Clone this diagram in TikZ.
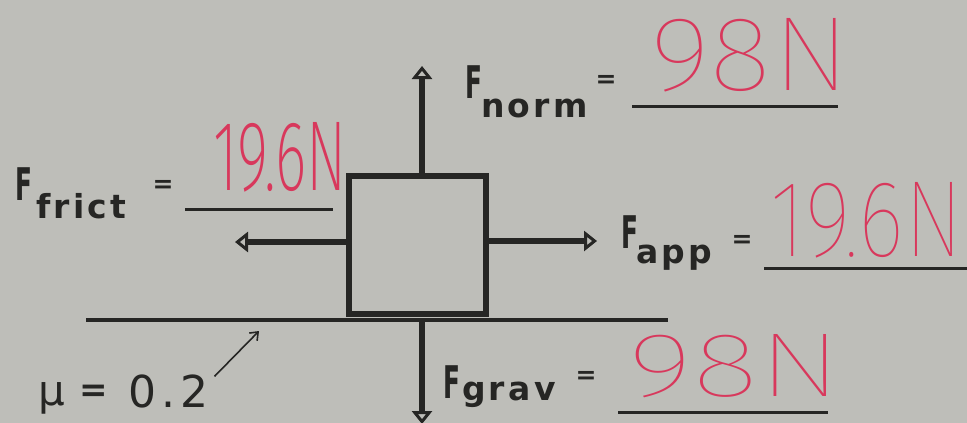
\documentclass[tikz,border=0pt]{standalone}
\usepackage{fontspec}
\usepackage{graphicx}
\usetikzlibrary{arrows.meta}
\newfontfamily\prt{DejaVu Sans}
\newfontfamily\subf{DejaVu Sans}[LetterSpace=10]
\newfontfamily\numf{DejaVu Sans}[LetterSpace=12]
\newfontfamily\hand{Fira Sans Thin}
\newfontfamily\handx{Fira Sans ExtraLight}
\definecolor{paper}{RGB}{190,190,185}
\definecolor{ink}{RGB}{38,38,36}
\definecolor{pen}{RGB}{216,56,92}
\newcommand{\capF}{\scalebox{0.55}[1]{\bfseries F}}
\newcommand{\hw}[3]{\resizebox{#1pt}{#2pt}{\hand #3}}
\newcommand{\hwx}[3]{\resizebox{#1pt}{#2pt}{\handx #3}}
\tikzset{
  txt/.style={inner sep=0pt, outer sep=0pt, text=ink},
  bigF/.style={txt, anchor=base west, font=\prt\fontsize{45}{45}\selectfont},
  subs/.style={txt, anchor=base west, font=\subf\bfseries\fontsize{33}{33}\selectfont},
  eqs/.style={txt, font=\prt\bfseries\fontsize{25}{25}\selectfont},
  handw/.style={inner sep=0pt, outer sep=0pt, text=pen, anchor=south west},
  blank/.style={draw=ink, line width=3pt},
  force/.style={draw=ink, line width=5.5pt, -{Triangle[open, length=13pt, width=20pt, line width=3pt]}},
  blockbox/.style={draw=ink, line width=6.5pt, minimum width=137pt, minimum height=138pt, inner sep=0pt},
}
\begin{document}
\begin{tikzpicture}[x=1pt,y=-1pt]
\fill[paper] (0,0) rectangle (967,423);
\useasboundingbox (0,0) rectangle (967,423);

% ground line
\coordinate (gl) at (86,320);
\coordinate (gr) at (668,320);
\draw[ink, line width=4pt] (gl) -- (gr);

% block
\node[blockbox] (blk) at (417.5,245) {};

% force arrows
\coordinate (upend) at (422,66);
\coordinate (downend) at (422,424);
\coordinate (leftend) at (235,242);
\coordinate (rightend) at (597,241);
\coordinate (upstart) at (422,176);
\coordinate (downstart) at (422,320);
\draw[force] (upstart) -- (upend);
\draw[force] (downstart) -- (downend);
\draw[force] (blk.west |- leftend) -- (leftend);
\draw[force] (blk.east |- rightend) -- (rightend);

% F_frict
\node[bigF] (ffF) at (16,200) {\capF};
\node[subs] (ffs) at (36,218) {frict};
\node[eqs] (ffe) at (163,186) {=};
\coordinate (ffl) at (185,209);
\coordinate (ffr) at (333,209);
\draw[blank] (ffl) -- (ffr);
\node[handw] (ffv) at (213,192) {\hwx{134}{68}{19.6N}};

% F_norm
\node[bigF] (fnF) at (465,98) {\capF};
\node[subs] (fns) at (481,117) {norm};
\node[eqs] (fne) at (606,81) {=};
\coordinate (fnl) at (632,106);
\coordinate (fnr) at (838,106);
\draw[blank] (fnl) -- (fnr);
\node[handw] (fnv) at (650,92) {\hw{200}{72}{98N}};

% F_app
\node[bigF] (faF) at (621,248) {\capF};
\node[subs] (fas) at (636,263) {app};
\node[eqs] (fae) at (742,241) {=};
\coordinate (fal) at (764,268);
\coordinate (far) at (967,268);
\draw[blank] (fal) -- (far);
\node[handw] (fav) at (770,258) {\hw{193}{74}{19.6N}};

% F_grav
\node[bigF] (fgF) at (443,398) {\capF};
\node[subs] (fgs) at (462,400) {grav};
\node[eqs] (fge) at (586,377) {=};
\coordinate (fgl) at (618,412);
\coordinate (fgr) at (828,412);
\draw[blank] (fgl) -- (fgr);
\node[handw] (fgv) at (628,398) {\hw{214}{62}{98N}};

% mu
\node[txt, anchor=base west, font=\prt\fontsize{42}{42}\selectfont] (mu) at (38,405) {μ};
\node[eqs, font=\prt\bfseries\fontsize{34}{34}\selectfont] (mue) at (94,393) {=};
\node[txt, anchor=base west, font=\numf\fontsize{44}{44}\selectfont] (muv) at (128,407) {0.2};
\coordinate (mtip) at (259,331);
\draw[ink, line width=1.6pt, -{Straight Barb[length=7pt, width=11pt, line width=1.6pt]}] (muv.north east) ++(6,2) -- (mtip);
\end{tikzpicture}
\end{document}
